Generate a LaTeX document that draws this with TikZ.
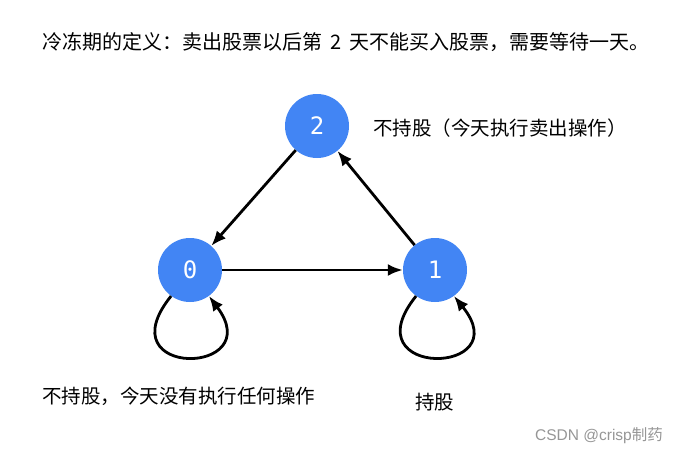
\documentclass[tikz,border=0pt]{standalone}
\usepackage{fontspec}
\setmainfont{Noto Sans CJK SC}
\newfontfamily\digitfont{DejaVu Sans Mono}
\newfontfamily\wmfont{Liberation Sans}
\newfontfamily\cjkwm{Noto Sans CJK SC}
\usetikzlibrary{arrows.meta}
\definecolor{nodeblue}{RGB}{66,133,244}
\definecolor{wmgrey}{RGB}{150,150,150}
\tikzset{
  statenode/.style={circle,fill=nodeblue,minimum size=64pt,inner sep=0pt,text=white,font=\digitfont\fontsize{24}{26}\selectfont},
  edge/.style={line width=2.8pt,-{Latex[length=15pt,width=12pt]}},
  label/.style={inner sep=0pt,anchor=west,font=\fontsize{19.5}{22}\selectfont},
}
\begin{document}
\begin{tikzpicture}[x=1pt,y=-1pt]
\useasboundingbox[fill=white] (0,0) rectangle (682,453);
\node[label,font=\fontsize{20}{22}\selectfont] (title) at (42,42) {冷冻期的定义：卖出股票以后第\hspace{8pt}2\hspace{8pt}天不能买入股票，需要等待一天。};
\node[statenode] (n2) at (317,126) {2};
\node[statenode] (n0) at (190,270) {0};
\node[statenode] (n1) at (435,270) {1};
\node[label] (l2) at (373,128) {不持股（今天执行卖出操作）};
\node[label] (l0) at (42,396) {不持股，今天没有执行任何操作};
\node[label] (l1) at (415,402) {持股};
\node[inner sep=0pt,anchor=west,text=wmgrey,font=\wmfont\fontsize{15.5}{17}\selectfont] (wm) at (535,436) {CSDN @crisp{\cjkwm 制药}};
\draw[edge] (n2) -- (n0);
\draw[edge] (n0) -- (n1);
\draw[edge] (n1) -- (n2);
\draw[edge] (n0.234) .. controls +(-67,83) and +(60,80) .. (n0.-54);
\draw[edge] (n1.234) .. controls +(-67,83) and +(65,80) .. (n1.-54);
\end{tikzpicture}
\end{document}
